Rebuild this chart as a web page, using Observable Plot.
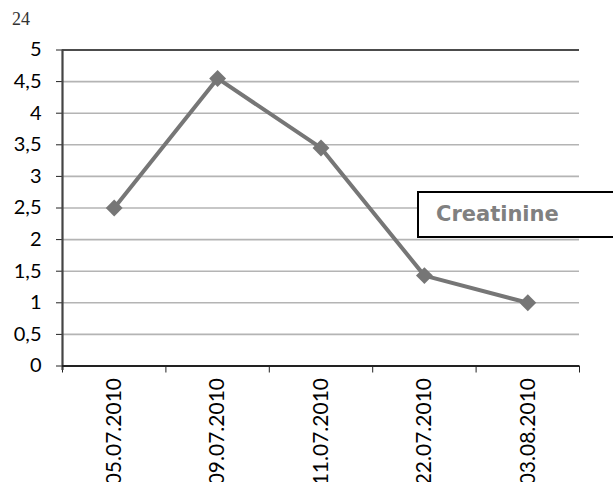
<!DOCTYPE html>
<html>
<head>
<meta charset="utf-8">
<script src="https://cdn.jsdelivr.net/npm/d3@7"></script>
<script src="https://cdn.jsdelivr.net/npm/@observablehq/plot@0.6"></script>
<style>
  html, body { margin: 0; padding: 0; background: #fff; }
  #wrap { position: relative; width: 613px; height: 482px; overflow: hidden; }
  #pagenum { position: absolute; left: 12px; top: 9px; font-family: "Liberation Serif", serif; font-size: 18px; color: #333; }
  #legend { position: absolute; left: 417px; top: 191px; width: 200px; height: 47px; border: 2.5px solid #000; box-sizing: border-box; background: #fff; }
  #legend span { position: absolute; left: 17px; top: 9px; font-family: "DejaVu Sans", sans-serif; font-weight: bold; font-size: 21px; color: #808080; }
</style>
</head>
<body>
<div id="wrap">
  <div id="chart"></div>
  <div id="pagenum">24</div>
  <div id="legend"><span>Creatinine</span></div>
</div>
<script>
const dates = ["05.07.2010", "09.07.2010", "11.07.2010", "22.07.2010", "03.08.2010"];
const values = [2.5, 4.55, 3.45, 1.43, 1.0];
const yTicks = [0, 0.5, 1, 1.5, 2, 2.5, 3, 3.5, 4, 4.5, 5];

const data = dates.map((d, i) => ({date: d, value: values[i], pos: i + 0.5}));
const lineColor = "#767676";

const chart = Plot.plot({
  width: 613,
  height: 482,
  marginLeft: 62,
  marginRight: 34,
  marginTop: 49.5,
  marginBottom: 116.5,
  style: {fontFamily: "Lato, sans-serif", background: "#fff", color: "#000"},
  x: {domain: [0, dates.length], axis: null},
  y: {domain: [0, 5], axis: null},
  marks: [
    Plot.gridY(yTicks.filter(t => t > 0 && t < 5), {stroke: "#b4b4b4", strokeOpacity: 1, strokeWidth: 1.6}),
    Plot.ruleY([5], {stroke: "#111", strokeWidth: 1.6}),
    Plot.axisY({ticks: yTicks, label: null, tickSize: 6, tickPadding: 15, fontSize: 20, stroke: "#222",
      tickFormat: d => String(d).replace(".", ",")}),
    Plot.axisX({ticks: d3.range(0, dates.length + 1), label: null, tickSize: 7, tickFormat: () => "", stroke: "#222"}),
    Plot.axisX({ticks: data.map(d => d.pos), label: null, tickSize: 0, tickPadding: 12, tickRotate: -90, fontSize: 21,
      tickFormat: p => dates[Math.floor(p)]}),
    Plot.ruleX([0], {y1: -0.07, y2: 5, stroke: "#444", strokeWidth: 2.2}),
    Plot.ruleY([0], {stroke: "#222", strokeWidth: 2}),
    Plot.line(data, {x: "pos", y: "value", stroke: lineColor, strokeWidth: 4}),
    Plot.dot(data, {x: "pos", y: "value", symbol: "diamond2", r: 7.6, fill: lineColor, stroke: "none"})
  ]
});
document.getElementById("chart").appendChild(chart);
</script>
</body>
</html>
